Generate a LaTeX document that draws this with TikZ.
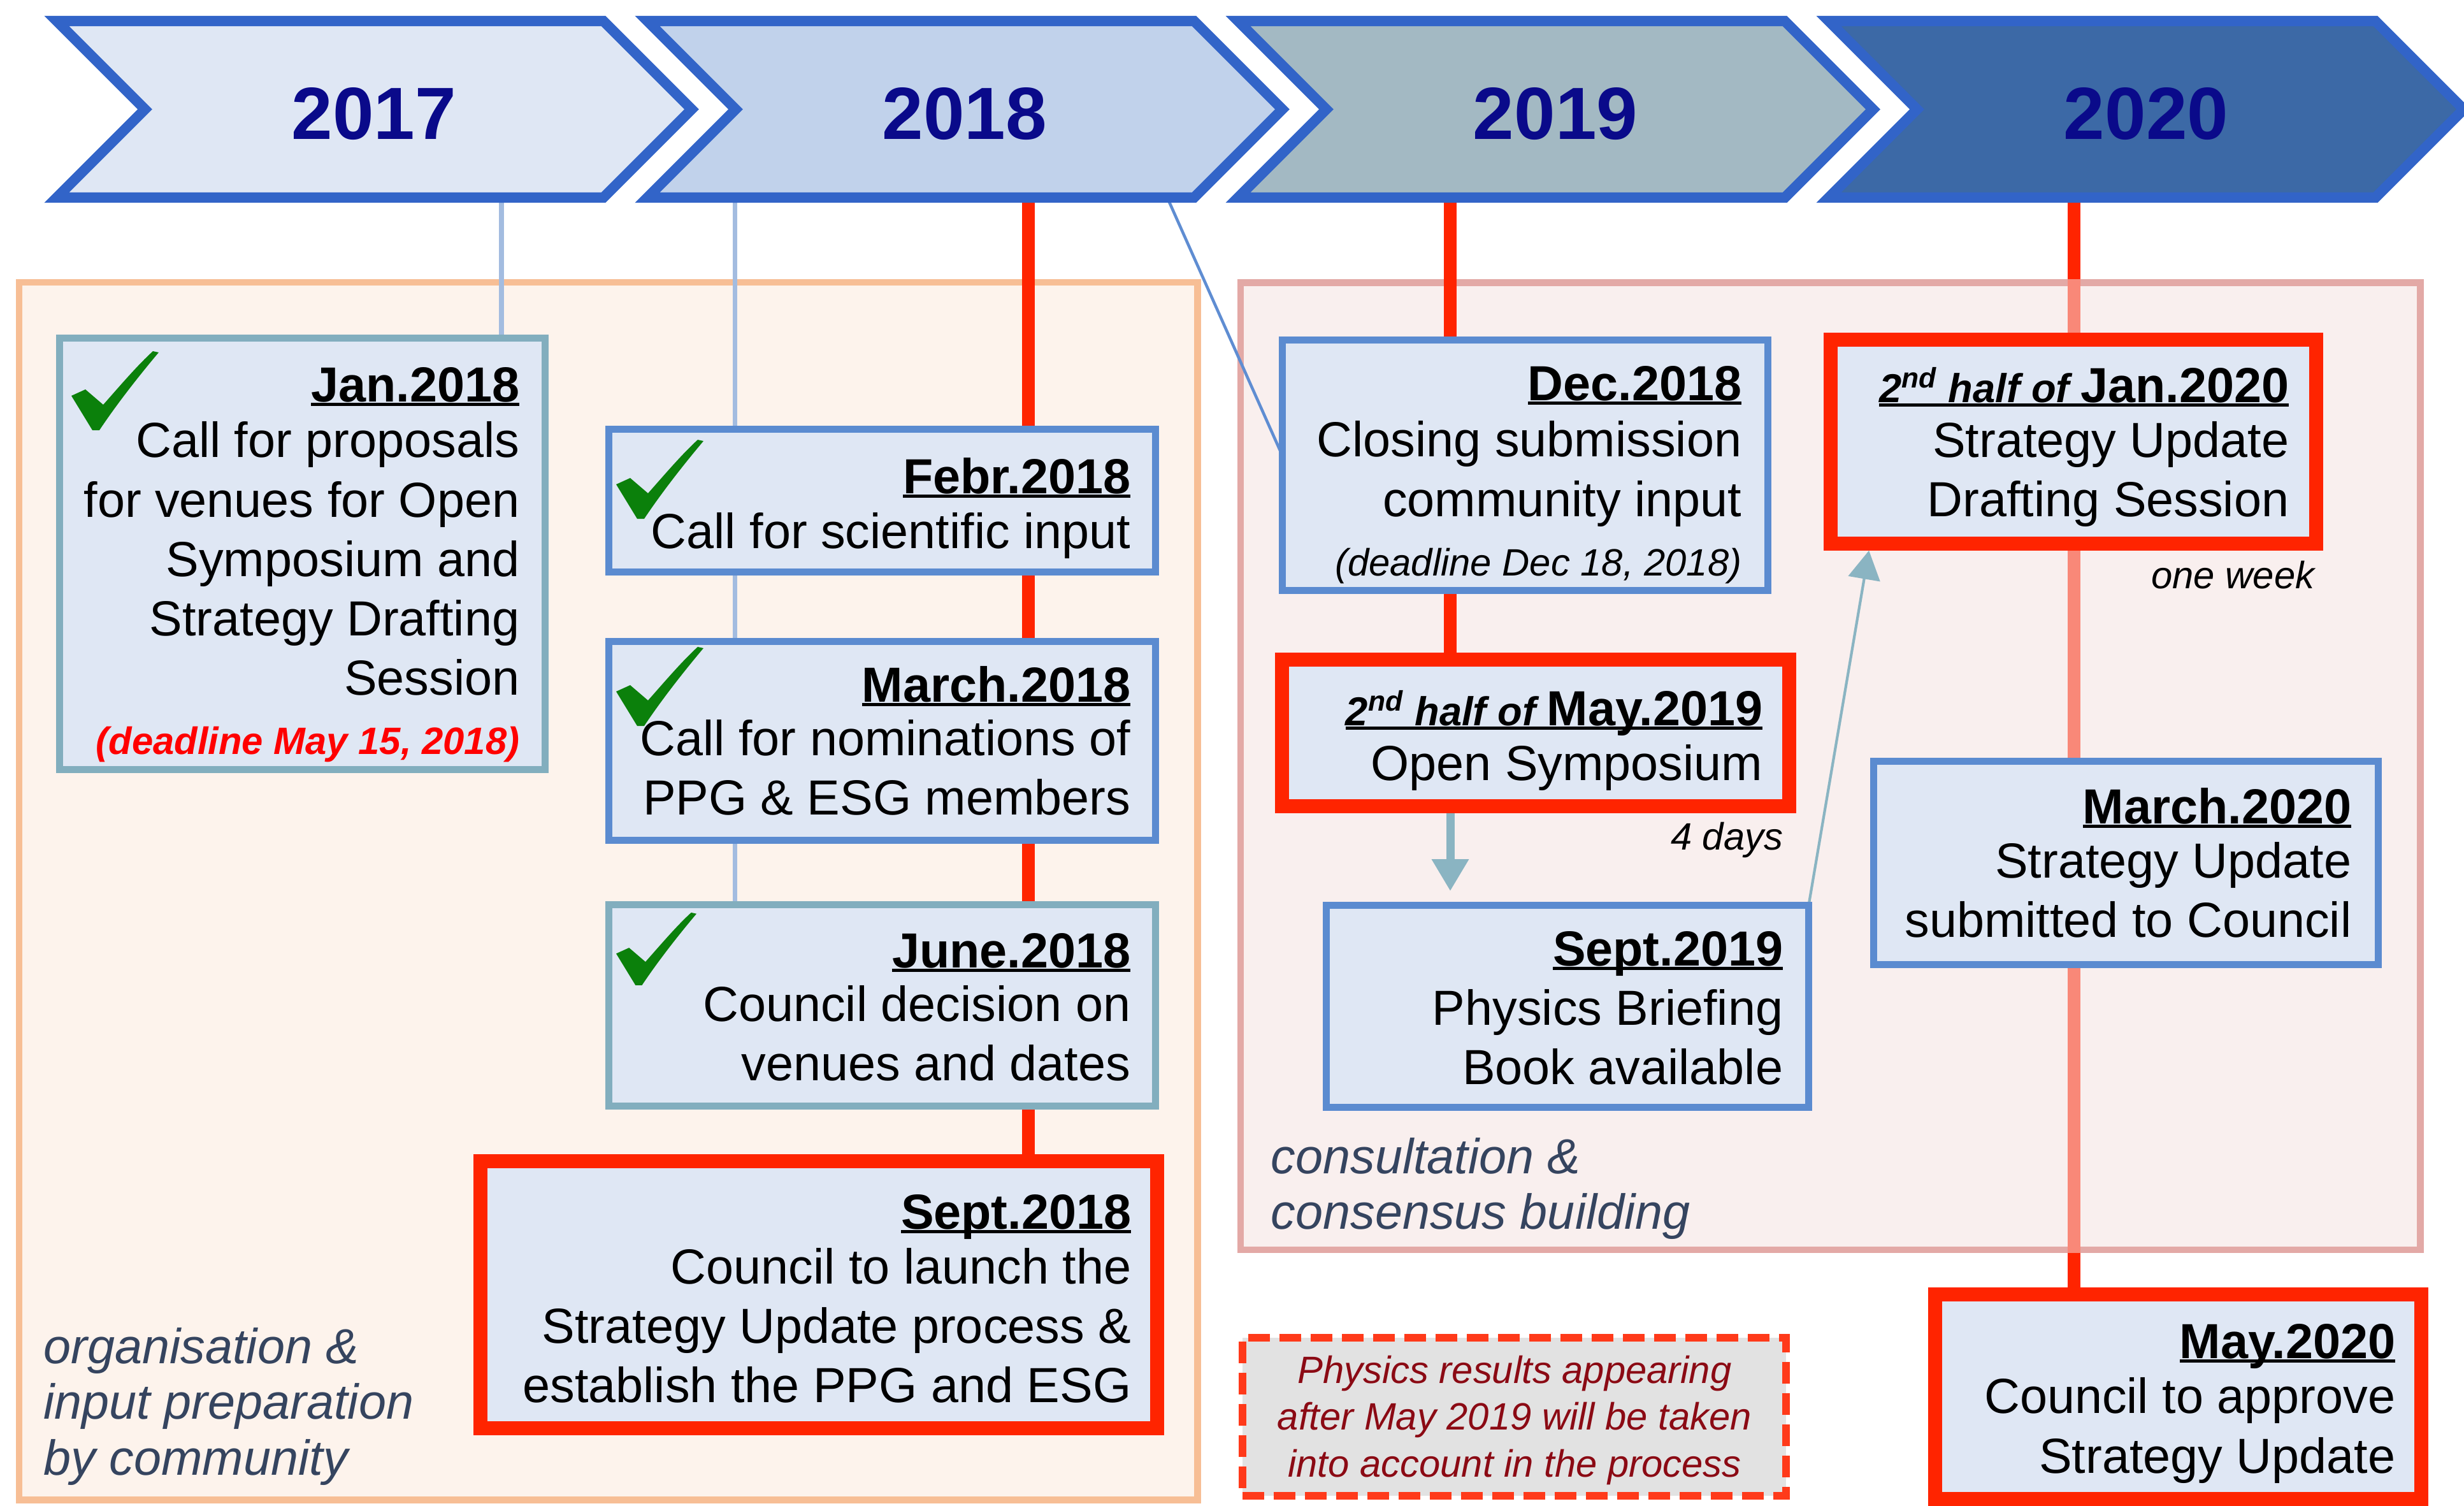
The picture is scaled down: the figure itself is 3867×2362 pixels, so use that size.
\documentclass[tikz,border=0pt]{standalone}
\usepackage{fontspec}
\setmainfont{Liberation Sans}
\usetikzlibrary{arrows.meta,calc}

\definecolor{boxfill}{HTML}{DFE7F4}
\definecolor{bborder}{HTML}{5B8BD0}
\definecolor{tborder}{HTML}{82AEBE}
\definecolor{hred}{HTML}{FF2400}
\definecolor{chevb}{HTML}{3264C8}
\definecolor{chA}{HTML}{DFE7F4}
\definecolor{chB}{HTML}{C1D2EB}
\definecolor{chC}{HTML}{A3B9C3}
\definecolor{chD}{HTML}{3C69A6}
\definecolor{yeartext}{HTML}{0A0A8A}
\definecolor{opborder}{HTML}{F7BE95}
\definecolor{opfill}{HTML}{FDF3EC}
\definecolor{pkborder}{HTML}{E3A9A6}
\definecolor{pkfill}{HTML}{F9EFEE}
\definecolor{salmonline}{HTML}{F98878}
\definecolor{thinblue}{HTML}{A3BCE0}
\definecolor{diagblue}{HTML}{5F8DD2}
\definecolor{arrowteal}{HTML}{8AB4C2}
\definecolor{notefill}{HTML}{E2E2E2}
\definecolor{notered}{HTML}{FF3A1A}
\definecolor{notetext}{HTML}{8B0A14}
\definecolor{labeltext}{HTML}{35445F}
\definecolor{checkgreen}{HTML}{0B800B}

\newsavebox\ulbox
\newcommand\ulx[1]{\sbox\ulbox{#1}\rlap{\rule[-0.09em]{\wd\ulbox}{0.065em}}\usebox\ulbox}
\newcommand\hdr[1]{\ulx{\bfseries #1}}
\newcommand\halfof{{\fontsize{18}{20}\selectfont\itshape 2\textsuperscript{nd} half of }}
\newcommand\ddl[1]{\fontsize{17}{21}\selectfont\bfseries\itshape\color{red}#1}
\newcommand\sml[1]{\fontsize{17}{22}\selectfont\itshape #1}
\newcommand\natsp{\spaceskip=0pt\xspaceskip=0pt\relax}

\begin{document}
\begin{tikzpicture}[x=0.01cm,y=-0.01cm,
  chev/.style={draw=chevb, line width=4.6pt, line join=miter},
  year/.style={font=\fontsize{33}{33}\selectfont\bfseries, text=yeartext, anchor=base, inner sep=0pt},
  panel/.style={line width=3.1pt, inner sep=0pt},
  evbox/.style={draw, fill=boxfill, line width=3.1pt, inner sep=0pt},
  bluebox/.style={evbox, draw=bborder},
  tealbox/.style={evbox, draw=tborder},
  redbox/.style={evbox, draw=hred, line width=6.3pt},
  body/.style={font=\fontsize{22}{26.5}\selectfont, inner sep=0pt, anchor=base east, text width=10.5cm, execute at begin node={\raggedleft\natsp}},
  small/.style={font=\fontsize{17}{20}\selectfont\itshape, inner sep=0pt, anchor=base east},
  lab/.style={font=\fontsize{22}{25}\selectfont\itshape, text=labeltext, text width=8cm, inner sep=0pt, anchor=base west, execute at begin node={\raggedright\natsp}},
  notebox/.style={draw=notered, fill=notefill, line width=3.4pt, dash pattern=on 0.34cm off 0.15cm, inner sep=0pt},
  notetxt/.style={font=\fontsize{17}{21}\selectfont\itshape, text=notetext, text width=8cm, inner sep=0pt, anchor=base, execute at begin node={\centering\natsp}},
  thinline/.style={draw=thinblue, line width=2pt},
  redline/.style={draw=hred, line width=5.7pt},
  salline/.style={draw=salmonline, line width=5.7pt},
  diagline/.style={draw=diagblue, line width=1.3pt},
  arrowthick/.style={draw=arrowteal, line width=3.7pt, -{Triangle[width=0.55cm,length=0.5cm]}},
  arrowthin/.style={draw=arrowteal, line width=1.2pt, -{Triangle[width=0.5cm,length=0.45cm]}},
  chk/.pic={\fill[checkgreen] (0,72) -- (22,62) -- (50,86) .. controls (80,52) and (104,24) .. (128,2) -- (137,4) .. controls (100,48) and (68,90) .. (44,126) -- (33,126) -- cycle;}
]
\useasboundingbox (0,0) rectangle (3867,2362);

% background panels
\node[panel, draw=opborder, fill=opfill, minimum width=18.48cm, minimum height=19.09cm] (orgpanel) at (954.5,1398) {};
\node[panel, draw=pkborder, fill=pkfill, minimum width=18.50cm, minimum height=15.17cm] (pkpanel) at (2872.5,1202) {};

% box frames as named placeholders (drawn later, over the connectors)
\path node[minimum width=7.60cm, minimum height=6.75cm, inner sep=0pt] (jan18) at (474.5,869) {}
      node[minimum width=8.56cm, minimum height=2.22cm, inner sep=0pt] (feb18) at (1384.5,785.5) {}
      node[minimum width=8.56cm, minimum height=3.10cm, inner sep=0pt] (mar18) at (1384.5,1162.5) {}
      node[minimum width=8.56cm, minimum height=3.14cm, inner sep=0pt] (jun18) at (1384.5,1577.5) {}
      node[minimum width=10.60cm, minimum height=4.17cm, inner sep=0pt] (sep18) at (1285,2031.5) {}
      node[minimum width=7.60cm, minimum height=3.91cm, inner sep=0pt] (dec18) at (2393.5,730) {}
      node[minimum width=7.94cm, minimum height=2.28cm, inner sep=0pt] (may19) at (2410,1150) {}
      node[minimum width=7.55cm, minimum height=3.15cm, inner sep=0pt] (sep19) at (2460,1579) {}
      node[minimum width=7.60cm, minimum height=3.18cm, inner sep=0pt] (jan20) at (3254,693) {}
      node[minimum width=7.90cm, minimum height=3.17cm, inner sep=0pt] (mar20) at (3336.5,1354) {}
      node[minimum width=7.61cm, minimum height=3.19cm, inner sep=0pt] (may20) at (3418.5,2191.5) {};

% line anchors under the chevrons
\coordinate (l17) at (787,310);
\coordinate (l18a) at (1153,310);
\coordinate (l18r) at (1614,310);
\coordinate (l18d) at (1835,317);
\coordinate (l19) at (2276,310);
\coordinate (l20) at (3255,310);
\coordinate (sep19top) at (l19 |- sep19.north);
\coordinate (pktop) at (l20 |- pkpanel.north);
\coordinate (pkbot) at (l20 |- pkpanel.south);

% connectors (behind the boxes)
\draw[thinline] (l17) -- (l17 |- jan18.north);
\draw[thinline] (l18a) -- (l18a |- jun18.north);
\draw[redline] (l18r) -- (l18r |- sep18.north);
\draw[diagline] (l18d) -- ([yshift=0.15cm]dec18.west);
\draw[redline] (l19) -- (l19 |- may19.north);
\draw[redline] (l20) -- (pktop);
\draw[salline] (pktop) -- (pkbot);
\draw[redline] (pkbot) -- (l20 |- may20.north);
\draw[arrowthick] (l19 |- may19.south) -- ([yshift=0.225cm]sep19top);
\draw[arrowthin] (sep19.north east) -- ([xshift=0.6cm,yshift=-0.11cm]jan20.south west);

% chevrons
\draw[chev, fill=chA] (89,33) -- ++(858,0) -- ++(138.5,138.5) -- ++(-138.5,138.5) -- ++(-858,0) -- ++(138.5,-138.5) -- cycle;
\draw[chev, fill=chB] (1016,33) -- ++(858,0) -- ++(138.5,138.5) -- ++(-138.5,138.5) -- ++(-858,0) -- ++(138.5,-138.5) -- cycle;
\draw[chev, fill=chC] (1943,33) -- ++(858,0) -- ++(138.5,138.5) -- ++(-138.5,138.5) -- ++(-858,0) -- ++(138.5,-138.5) -- cycle;
\draw[chev, fill=chD] (2870,33) -- ++(858,0) -- ++(138.5,138.5) -- ++(-138.5,138.5) -- ++(-858,0) -- ++(138.5,-138.5) -- cycle;
\node[year] (y2017) at (587,218) {2017};
\node[year] (y2018) at (1514,218) {2018};
\node[year] (y2019) at (2441,218) {2019};
\node[year] (y2020) at (3368,218) {2020};

% event boxes (drawn over the connectors)
\draw[tealbox] (jan18.south west) rectangle (jan18.north east);
\draw[bluebox] (feb18.south west) rectangle (feb18.north east);
\draw[bluebox] (mar18.south west) rectangle (mar18.north east);
\draw[tealbox] (jun18.south west) rectangle (jun18.north east);
\draw[redbox] (sep18.south west) rectangle (sep18.north east);
\draw[bluebox] (dec18.south west) rectangle (dec18.north east);
\draw[redbox] (may19.south west) rectangle (may19.north east);
\draw[bluebox] (sep19.south west) rectangle (sep19.north east);
\draw[redbox] (jan20.south west) rectangle (jan20.north east);
\draw[bluebox] (mar20.south west) rectangle (mar20.north east);
\draw[redbox] (may20.south west) rectangle (may20.north east);
\node[notebox, minimum width=8.53cm, minimum height=2.48cm] (note) at (2376.5,2223) {};

% texts
\node[body] (jan18t) at (816,630) {\hdr{Jan.2018}\\[-1.5pt] Call for proposals\\ for venues for Open\\ Symposium and\\ Strategy Drafting\\ Session\\ \ddl{(deadline May 15, 2018)}};
\node[body] (feb18t) at (1775,774) {\hdr{Febr.2018}\\[-2pt] Call for scientific input};
\node[body] (mar18t) at (1775,1101) {\hdr{March.2018}\\[-2.5pt] Call for nominations of\\ PPG \& ESG members};
\node[body] (jun18t) at (1775,1518) {\hdr{June.2018}\\[-2.5pt] Council decision on\\ venues and dates};
\node[body] (sep18t) at (1776,1928) {\hdr{Sept.2018}\\[-2pt] Council to launch the\\ Strategy Update process \&\\ establish the PPG and ESG};
\node[body] (dec18t) at (2734,628) {\hdr{Dec.2018}\\[-1.2pt] Closing submission\\ community input\\ \sml{(deadline Dec 18, 2018)}};
\node[body] (may19t) at (2767,1138) {\hdr{\halfof May.2019}\\[-1.8pt] Open Symposium};
\node[body] (sep19t) at (2799,1515) {\hdr{Sept.2019}\\ Physics Briefing\\ Book available};
\node[body] (jan20t) at (3593,631) {\hdr{\halfof Jan.2020}\\[-2pt] Strategy Update\\ Drafting Session};
\node[body] (mar20t) at (3691,1292) {\hdr{March.2020}\\[-2.3pt] Strategy Update\\ submitted to Council};
\node[body] (may20t) at (3760,2131) {\hdr{May.2020}\\[-1.8pt] Council to approve\\ Strategy Update};

\node[small] (days) at (2799,1333) {4 days};
\node[small] (week) at (3633,923) {one week};
\node[lab] (orglab) at (68,2139) {organisation \&\\ input preparation\\ by community};
\node[lab] (conslab) at (1994,1841) {consultation \&\\ consensus building};
\node[notetxt] (notet) at (2377,2170) {Physics results appearing\\ after May 2019 will be taken\\ into account in the process};

% check marks
\pic at (112,549) {chk};
\pic at (967,688) {chk};
\pic at (967,1013) {chk};
\pic[scale=0.92] at (967,1430) {chk};
\end{tikzpicture}
\end{document}
